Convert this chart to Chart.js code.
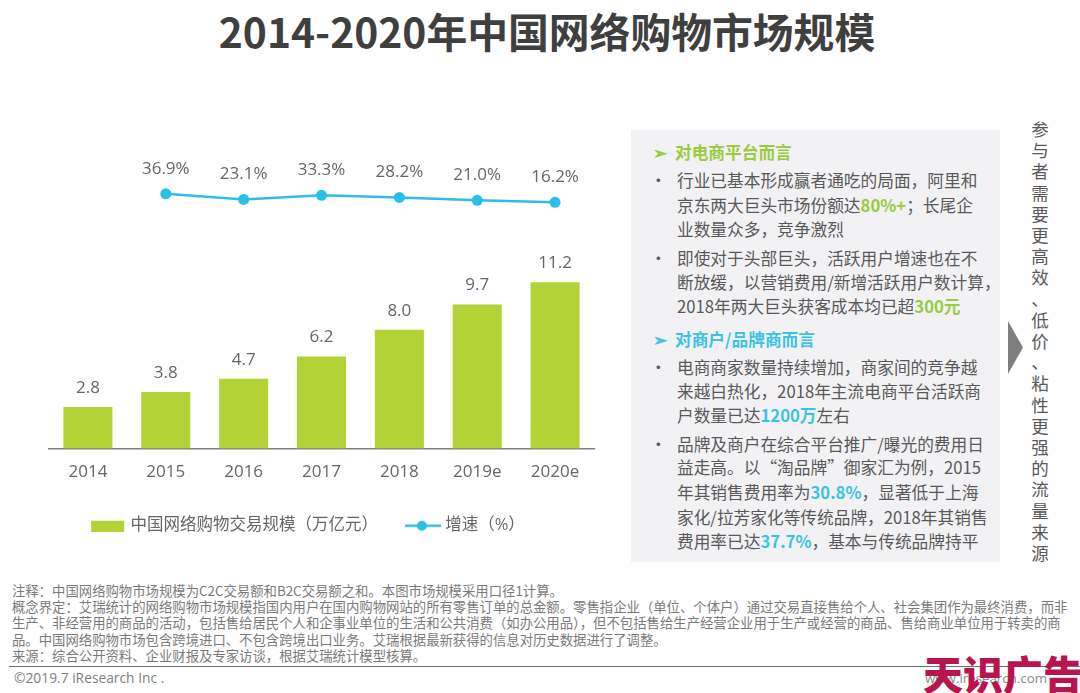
<!DOCTYPE html>
<html lang="zh">
<head>
<meta charset="utf-8">
<title>2014-2020年中国网络购物市场规模</title>
<script src="https://cdn.jsdelivr.net/npm/chart.js@4"></script>
<style>
html, body { margin: 0; padding: 0; background: #fff; }
body { width: 1080px; height: 693px; position: relative; overflow: hidden; font-family: "Noto Sans CJK SC", "Open Sans", sans-serif; color: #595959; }
#title { position: absolute; left: 0; width: 1094px; top: 3px; text-align: center; font-size: 40.8px; line-height: 56px; font-weight: 700; color: #3f3f3f; white-space: nowrap; }
#grafico { position: absolute; left: 0; top: 150px; }
#panel { position: absolute; left: 631px; top: 130px; width: 369px; height: 432px; background: #f2f2f4; }
.fila { position: absolute; font-size: 16.7px; line-height: 24px; white-space: nowrap; }
.cab { font-weight: 700; }
.verde { color: #97cc3f; font-weight: 700; }
.azul { color: #3cc3e2; font-weight: 700; }
#flecha { position: absolute; left: 1008px; top: 321px; width: 15px; height: 53px; background: #7f7f7f; clip-path: polygon(0 0, 100% 50%, 0 100%); }
#lateral { position: absolute; left: 1028px; top: 118px; width: 24px; font-size: 17.5px; line-height: 21.2px; text-align: center; white-space: pre; color: #595959; }
#notas { position: absolute; left: 12px; top: 582px; font-size: 13.37px; line-height: 16.2px; color: #7a7a7a; white-space: nowrap; }
#regla { position: absolute; left: 9px; right: 0; top: 666px; height: 1px; background: #6e6e6e; }
#copy { position: absolute; left: 14px; top: 668px; font-size: 13.8px; line-height: 19px; color: #808080; font-family: "Open Sans", sans-serif; }
#web { position: absolute; left: 925px; top: 668px; font-size: 13.3px; line-height: 20px; color: #8a8a8a; font-family: "Open Sans", sans-serif; }
#marca { position: absolute; left: 923px; top: 644px; font-size: 40px; line-height: 58px; font-weight: 900; color: #b8144e; white-space: nowrap; }
</style>
</head>
<body>
<div id="title">2014-2020年中国网络购物市场规模</div>
<canvas id="grafico" width="615" height="410"></canvas>
<div id="panel"></div>
<div id="flecha"></div>
<div id="lateral"></div>
<div id="notas">注释：中国网络购物市场规模为C2C交易额和B2C交易额之和。本图市场规模采用口径1计算。<br>概念界定：艾瑞统计的网络购物市场规模指国内用户在国内购物网站的所有零售订单的总金额。零售指企业（单位、个体户）通过交易直接售给个人、社会集团作为最终消费，而非<br>生产、非经营用的商品的活动，包括售给居民个人和企事业单位的生活和公共消费（如办公用品），但不包括售给生产经营企业用于生产或经营的商品、售给商业单位用于转卖的商<br>品。中国网络购物市场包含跨境进口、不包含跨境出口业务。艾瑞根据最新获得的信息对历史数据进行了调整。<br>来源：综合公开资料、企业财报及专家访谈，根据艾瑞统计模型核算。</div>
<div id="regla"></div>
<div id="copy">©2019.7 iResearch Inc .</div>
<div id="web">www.iresearch.com</div>
<div id="marca">天识广告</div>
<script>
const anios = ['2014', '2015', '2016', '2017', '2018', '2019e', '2020e'];
const mercado = [2.8, 3.8, 4.7, 6.2, 8.0, 9.7, 11.2];
const crecimiento = [null, 36.9, 23.1, 33.3, 28.2, 21.0, 16.2];
const nombreMercado = '中国网络购物交易规模（万亿元）';
const nombreCrecimiento = '增速（%）';

const colorBarra = '#b2d235';
const colorLinea = '#2bbfe8';
const colorTexto = '#666666';
const fuente = '"Open Sans", "Noto Sans CJK SC", sans-serif';

// texto del panel derecho, linea por linea como en el original
const filasPanel = [
    [10, 'cab verde', '对电商平台而言', '➢'],
    [38, '', '行业已基本形成赢者通吃的局面，阿里和', '•'],
    [63, '', '京东两大巨头市场份额达<span class="verde">80%+</span>；长尾企'],
    [87, '', '业数量众多，竞争激烈'],
    [116, '', '即使对于头部巨头，活跃用户增速也在不', '•'],
    [140, '', '断放缓，以营销费用/新增活跃用户数计算，'],
    [164, '', '2018年两大巨头获客成本均已超<span class="verde">300元</span>'],
    [197, 'cab azul', '对商户/品牌商而言', '➢'],
    [225, '', '电商商家数量持续增加，商家间的竞争越', '•'],
    [249, '', '来越白热化，2018年主流电商平台活跃商'],
    [273, '', '户数量已达<span class="azul">1200万</span>左右'],
    [302, '', '品牌及商户在综合平台推广/曝光的费用日', '•'],
    [325, '', '益走高。以“淘品牌”御家汇为例，2015'],
    [350, '', '年其销售费用率为<span class="azul">30.8%</span>，显著低于上海'],
    [375, '', '家化/拉芳家化等传统品牌，2018年其销售'],
    [399, '', '费用率已达<span class="azul">37.7%</span>，基本与传统品牌持平']
];

const panel = document.getElementById('panel');
filasPanel.forEach(function (f) {
    const fila = document.createElement('div');
    fila.className = 'fila ' + f[1];
    fila.style.left = f[1] ? '44px' : '46px';
    fila.style.top = f[0] + 'px';
    fila.innerHTML = f[2];
    panel.appendChild(fila);
    if (f[3]) {
        const marca = document.createElement('div');
        marca.className = 'fila ' + f[1];
        marca.style.left = f[1] ? '22px' : '19px';
        marca.style.top = f[0] + 'px';
        marca.textContent = f[3];
        panel.appendChild(marca);
    }
});

document.getElementById('lateral').textContent = '参与者需要更高效、低价、粘性更强的流量来源'.split('').join('\n');

function muestraBarra() {
    const c = document.createElement('canvas');
    c.width = 40; c.height = 12;
    const g = c.getContext('2d');
    g.fillStyle = colorBarra;
    g.fillRect(5, 1, 33, 11);
    return c;
}

function muestraLinea() {
    const c = document.createElement('canvas');
    c.width = 40; c.height = 12;
    const g = c.getContext('2d');
    g.strokeStyle = colorLinea;
    g.lineWidth = 2.5;
    g.beginPath(); g.moveTo(4, 6); g.lineTo(40, 6); g.stroke();
    g.fillStyle = colorLinea;
    g.beginPath(); g.arc(21, 6, 5, 0, Math.PI * 2); g.fill();
    return c;
}

const etiquetas = {
    id: 'etiquetas',
    afterDatasetsDraw(chart) {
        const ctx = chart.ctx;
        ctx.save();
        ctx.font = '17px ' + fuente;
        ctx.fillStyle = colorTexto;
        ctx.textAlign = 'center';
        ctx.textBaseline = 'middle';
        chart.getDatasetMeta(0).data.forEach(function (barra, i) {
            ctx.fillText(mercado[i].toFixed(1), barra.x, barra.y - 19);
        });
        chart.getDatasetMeta(1).data.forEach(function (punto, i) {
            if (crecimiento[i] !== null) {
                ctx.fillText(crecimiento[i].toFixed(1) + '%', punto.x, punto.y - 25);
            }
        });
        ctx.restore();
    }
};

// ejes Y invisibles: solo reservan el margen para que la leyenda no dependa del area del grafico
function ejeOculto(extra) {
    return Object.assign({
        ticks: { display: false },
        grid: { display: false },
        border: { display: false }
    }, extra);
}

const chart = new Chart(document.getElementById('grafico'), {
    data: {
        labels: anios,
        datasets: [
            {
                type: 'bar',
                label: nombreMercado,
                data: mercado,
                yAxisID: 'yMercado',
                backgroundColor: colorBarra,
                categoryPercentage: 1,
                barPercentage: 0.63
            },
            {
                type: 'line',
                label: nombreCrecimiento,
                data: crecimiento,
                yAxisID: 'yCrecimiento',
                borderColor: colorLinea,
                backgroundColor: colorLinea,
                borderWidth: 2.5,
                pointRadius: 5.5,
                pointBackgroundColor: colorLinea,
                pointBorderWidth: 0,
                tension: 0
            }
        ]
    },
    options: {
        responsive: false,
        animation: false,
        layout: { padding: { left: 0, right: 0, top: 0, bottom: 16 } },
        plugins: {
            tooltip: { enabled: false },
            legend: {
                position: 'bottom',
                labels: {
                    usePointStyle: true,
                    pointStyleWidth: 32,
                    padding: 27,
                    font: { family: fuente, size: 16.5 },
                    color: colorTexto,
                    generateLabels() {
                        return [
                            { text: nombreMercado, pointStyle: muestraBarra(), datasetIndex: 0, fontColor: colorTexto, lineWidth: 0 },
                            { text: nombreCrecimiento, pointStyle: muestraLinea(), datasetIndex: 1, fontColor: colorTexto, lineWidth: 0 }
                        ];
                    }
                }
            }
        },
        scales: {
            x: {
                grid: { display: false },
                border: { color: '#7f7f7f', width: 1.5 },
                ticks: { color: colorTexto, font: { family: fuente, size: 17 }, padding: 5, maxRotation: 0 },
                afterFit(escala) { escala.height = 42; }
            },
            yMercado: ejeOculto({ min: 0, max: 19.73, afterFit(escala) { escala.width = 49; } }),
            yCrecimiento: ejeOculto({ position: 'right', min: -586.3, max: 130.7, afterFit(escala) { escala.width = 21; } })
        }
    },
    plugins: [etiquetas]
});
</script>
</body>
</html>
